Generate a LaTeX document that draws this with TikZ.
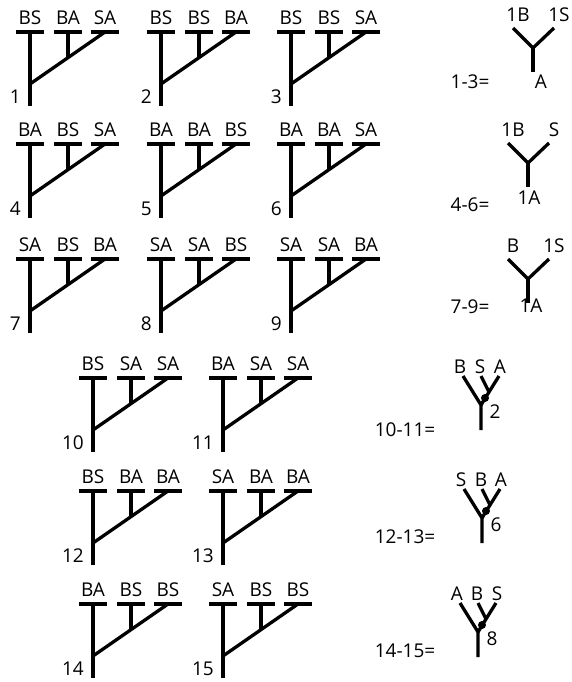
\documentclass[tikz,border=0pt]{standalone}
\usepackage{fontspec}
\newfontfamily\lblfont{Open Sans}
\tikzset{
  ln/.style={line width=3.3pt, line join=round},
  lbl/.style={font=\lblfont\fontsize{19}{21}\selectfont, inner sep=0pt},
}
% tree: name, stem x, bar y, number, three labels
\newcommand\ctree[7]{%
  \begin{scope}[shift={(#2,#3)}]
    \draw[ln] (-14,0) -- (14,0) (24,0) -- (52,0) (61,0) -- (89,0);
    \draw[ln] (0,0) -- (0,74);
    \draw[ln] (38,0) -- (38,26);
    \draw[ln] (0,52) -- (75,0);
    \node[lbl] (#1a) at (0,-14) {#5};
    \node[lbl] (#1b) at (38,-14) {#6};
    \node[lbl] (#1c) at (75,-14) {#7};
    \node[lbl, anchor=east] (#1n) at (-9,65) {#4};
  \end{scope}}
% simple Y: name, junction x, y, left label, right label
\newcommand\simpley[5]{%
  \begin{scope}[shift={(#2,#3)}]
    \draw[ln] (-20,-20) -- (0,0) -- (21,-20);
    \draw[ln] (0,0) -- (0,24);
    \node[lbl] (#1l) at (-15,-33) {#4};
    \node[lbl] (#1r) at (26,-33) {#5};
  \end{scope}}
% dotted Y: name, main junction x, y, three labels, number
\newcommand\doty[7]{%
  \begin{scope}[shift={(#2,#3)}]
    \draw[ln] (-18,-29) -- (0,0) -- (0,25);
    \draw[ln] (0,-29) -- (8,-13) -- (18,-29);
    \draw[ln] (8,-13) -- (0,0);
    \fill (4,-7) circle (4);
    \node[lbl] (#1a) at (-21,-38) {#4};
    \node[lbl] (#1b) at (-1,-38) {#5};
    \node[lbl] (#1c) at (19,-38) {#6};
    \node[lbl] (#1n) at (14,7) {#7};
  \end{scope}}
\begin{document}
\begin{tikzpicture}[x=1pt,y=-1pt]
\useasboundingbox (0,0) rectangle (571,682);
% rows 1-3
\ctree{t1}{30}{32}{1}{BS}{BA}{SA}
\ctree{t2}{161}{32}{2}{BS}{BS}{BA}
\ctree{t3}{291}{32}{3}{BS}{BS}{SA}
\ctree{t4}{30}{144}{4}{BA}{BS}{SA}
\ctree{t5}{161}{144}{5}{BA}{BA}{BS}
\ctree{t6}{291}{144}{6}{BA}{BA}{SA}
\ctree{t7}{30}{259}{7}{SA}{BS}{BA}
\ctree{t8}{161}{259}{8}{SA}{SA}{BS}
\ctree{t9}{291}{259}{9}{SA}{SA}{BA}
% rows 4-6
\ctree{t10}{93}{378}{10}{BS}{SA}{SA}
\ctree{t11}{223}{378}{11}{BA}{SA}{SA}
\ctree{t12}{93}{491}{12}{BS}{BA}{BA}
\ctree{t13}{223}{491}{13}{SA}{BA}{BA}
\ctree{t14}{93}{604}{14}{BA}{BS}{BS}
\ctree{t15}{223}{604}{15}{SA}{BS}{BS}
% simple Ys
\simpley{ya}{533}{48}{1B}{1S}
\node[lbl] (yaA) at (541,82) {A};
\node[lbl] (yaeq) at (470,82) {1-3=};
\simpley{yb}{528}{163}{1B}{S}
\node[lbl] (ybA) at (529,198) {1A};
\node[lbl] (ybeq) at (470,205) {4-6=};
\simpley{yc}{528}{279}{B}{1S}
\node[lbl] (ycA) at (531,306) {1A};
\node[lbl] (yceq) at (470,307) {7-9=};
\draw[ln] (528,279) -- (528,303);
% dotted Ys
\doty{yd}{481}{405}{B}{S}{A}{2}
\node[lbl] (ydeq) at (405,430) {10-11=};
\doty{ye}{482}{518}{S}{B}{A}{6}
\node[lbl] (yeeq) at (405,537) {12-13=};
\doty{yf}{478}{632}{A}{B}{S}{8}
\node[lbl] (yfeq) at (405,651) {14-15=};
\end{tikzpicture}
\end{document}
